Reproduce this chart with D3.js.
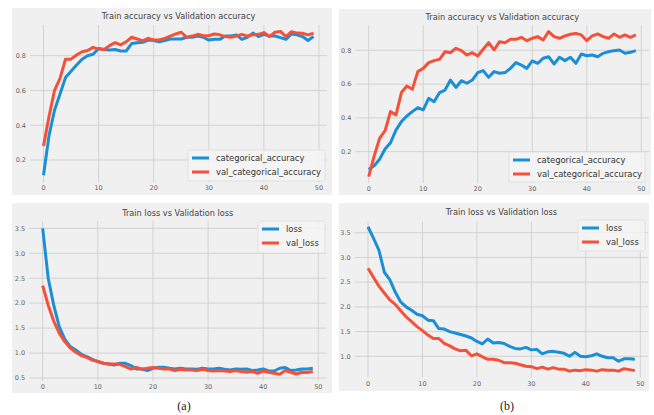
<!DOCTYPE html>
<html>
<head>
<meta charset="utf-8">
<style>
  body { margin: 0; background: #fff; }
  svg { display: block; font-family: "DejaVu Sans", sans-serif; }
</style>
</head>
<body>
<svg width="654" height="415"></svg>

<script src="https://d3js.org/d3.v7.min.js"></script>

<script>
    // ---- values (epochs 0..49) ----
    var accA = [0.112, 0.34, 0.486, 0.58, 0.675, 0.71, 0.746, 0.78, 0.80, 0.808,
        0.842, 0.836, 0.833, 0.836, 0.827, 0.827, 0.87, 0.875, 0.877, 0.89,
        0.887, 0.88, 0.887, 0.896, 0.896, 0.896, 0.906, 0.906, 0.913, 0.906,
        0.89, 0.894, 0.894, 0.913, 0.913, 0.92, 0.894, 0.906, 0.93, 0.91,
        0.923, 0.913, 0.913, 0.904, 0.894, 0.925, 0.92, 0.91, 0.887, 0.91];
    var valAccA = [0.28, 0.45, 0.6, 0.67, 0.78, 0.78, 0.804, 0.823, 0.83, 0.848,
        0.838, 0.836, 0.858, 0.875, 0.862, 0.88, 0.906, 0.896, 0.885, 0.9,
        0.89, 0.89, 0.9, 0.913, 0.925, 0.935, 0.906, 0.913, 0.923, 0.915,
        0.915, 0.925, 0.92, 0.91, 0.906, 0.913, 0.923, 0.913, 0.92, 0.923,
        0.933, 0.91, 0.935, 0.94, 0.91, 0.938, 0.93, 0.929, 0.92, 0.929];
    var lossA = [3.5, 2.5, 1.96, 1.53, 1.28, 1.13, 1.06, 0.975, 0.93, 0.875,
        0.83, 0.795, 0.78, 0.76, 0.795, 0.795, 0.75, 0.68, 0.68, 0.65,
        0.695, 0.715, 0.715, 0.695, 0.68, 0.695, 0.68, 0.68, 0.675, 0.695,
        0.68, 0.68, 0.695, 0.675, 0.66, 0.68, 0.675, 0.68, 0.65, 0.66,
        0.68, 0.64, 0.64, 0.695, 0.71, 0.65, 0.66, 0.68, 0.68, 0.695];
    var valLossA = [2.35, 1.96, 1.64, 1.4, 1.23, 1.1, 1.015, 0.95, 0.915, 0.86,
        0.83, 0.795, 0.78, 0.78, 0.775, 0.73, 0.68, 0.71, 0.675, 0.695,
        0.71, 0.695, 0.68, 0.68, 0.65, 0.675, 0.66, 0.66, 0.65, 0.675,
        0.65, 0.64, 0.65, 0.64, 0.63, 0.65, 0.63, 0.615, 0.63, 0.595,
        0.64, 0.615, 0.595, 0.575, 0.65, 0.615, 0.58, 0.615, 0.61, 0.63];

    var accB = [0.095, 0.117, 0.155, 0.216, 0.253, 0.328, 0.378, 0.411, 0.437, 0.46,
        0.447, 0.516, 0.496, 0.55, 0.565, 0.624, 0.58, 0.62, 0.605, 0.624,
        0.668, 0.68, 0.64, 0.674, 0.664, 0.668, 0.693, 0.727, 0.713, 0.693,
        0.737, 0.723, 0.753, 0.762, 0.719, 0.759, 0.739, 0.759, 0.723, 0.778,
        0.768, 0.772, 0.762, 0.782, 0.792, 0.798, 0.802, 0.782, 0.788, 0.798];
    var valAccB = [0.052, 0.174, 0.279, 0.324, 0.437, 0.417, 0.55, 0.589, 0.569, 0.674,
        0.693, 0.727, 0.739, 0.747, 0.792, 0.786, 0.812, 0.798, 0.772, 0.786,
        0.766, 0.806, 0.845, 0.802, 0.851, 0.845, 0.865, 0.865, 0.877, 0.857,
        0.871, 0.881, 0.861, 0.911, 0.881, 0.871, 0.885, 0.895, 0.9, 0.891,
        0.857, 0.885, 0.897, 0.881, 0.871, 0.897, 0.877, 0.891, 0.877, 0.891];
    var lossB = [3.62, 3.39, 3.15, 2.7, 2.55, 2.3, 2.1, 2.0, 1.93, 1.85,
        1.82, 1.73, 1.72, 1.56, 1.55, 1.5, 1.47, 1.44, 1.41, 1.37,
        1.3, 1.25, 1.35, 1.27, 1.28, 1.26, 1.2, 1.16, 1.15, 1.18,
        1.13, 1.14, 1.05, 1.09, 1.1, 1.08, 1.06, 1.0, 1.08, 1.0,
        0.99, 1.01, 1.05, 1.0, 0.97, 0.97, 0.9, 0.95, 0.95, 0.94];
    var valLossB = [2.78, 2.6, 2.42, 2.28, 2.14, 2.05, 1.92, 1.8, 1.7, 1.6,
        1.52, 1.43, 1.36, 1.36, 1.26, 1.21, 1.15, 1.11, 1.12, 1.01,
        1.05, 0.99, 0.94, 0.94, 0.92, 0.87, 0.87, 0.86, 0.83, 0.8,
        0.79, 0.75, 0.78, 0.74, 0.77, 0.74, 0.74, 0.7, 0.72, 0.71,
        0.73, 0.72, 0.7, 0.73, 0.72, 0.72, 0.7, 0.75, 0.73, 0.71];

    var xTicks = [0, 10, 20, 30, 40, 50];
    var accTicks = [0.2, 0.4, 0.6, 0.8];
    var lossTicksA = [0.5, 1.0, 1.5, 2.0, 2.5, 3.0, 3.5];
    var lossTicksB = [1.0, 1.5, 2.0, 2.5, 3.0, 3.5];

    var accNames = ["categorical_accuracy", "val_categorical_accuracy"];
    var lossNames = ["loss", "val_loss"];
    var accTitle = "Train accuracy vs Validation accuracy";
    var lossTitle = "Train loss vs Validation loss";
    var subLabels = ["(a)", "(b)"];
</script>

<script>
    var colors = ["#1a8fd6", "#f5503a"];
    var svg = d3.select("svg");

    // layout of the four matplotlib figures (pixel calibration from the ticks)
    var panels = [
        {bg: [12, 8, 332, 195], xr: [43.5, 319], yd: [0.2, 0.8], yr: [160, 55.7], ylim: [0.071, 0.976],
         title: accTitle, ty: 16, series: [accA, valAccA], names: accNames, yTicks: accTicks,
         leg: {x: 188, y: 150, w: 137, h: 31}},
        {bg: [339, 9, 651, 195], xr: [368.7, 641.3], yd: [0.2, 0.8], yr: [151.7, 50.3], ylim: [0.015, 0.947],
         title: accTitle, ty: 17, series: [accB, valAccB], names: accNames, yTicks: accTicks,
         leg: {x: 509, y: 152, w: 136, h: 30}},
        {bg: [12, 203, 332, 393], xr: [42.7, 318.3], yd: [0.5, 3.5], yr: [378, 228.3], ylim: [0.44, 3.65],
         title: lossTitle, ty: 213, series: [lossA, valLossA], names: lossNames, yTicks: lossTicksA,
         leg: {x: 258, y: 221, w: 67, h: 32}},
        {bg: [339, 203, 649, 391], xr: [368, 640.3], yd: [1.0, 3.5], yr: [356.3, 232.7], ylim: [0.57, 3.72],
         title: lossTitle, ty: 212, series: [lossB, valLossB], names: lossNames, yTicks: lossTicksB,
         leg: {x: 578, y: 220, w: 67, h: 31}}
    ];

    panels.forEach(function(p) {
        var x = d3.scaleLinear().domain([0, 50]).range(p.xr);
        var y = d3.scaleLinear().domain(p.yd).range(p.yr);
        var x0 = x(-2.45), x1 = x(51.45);
        var y0 = y(p.ylim[0]), y1 = y(p.ylim[1]);

        var g = svg.append("g");

        g.append("rect")
            .attr("x", p.bg[0]).attr("y", p.bg[1])
            .attr("width", p.bg[2] - p.bg[0]).attr("height", p.bg[3] - p.bg[1])
            .attr("fill", "#f0f0f0");

        // grid
        g.selectAll(".vg").data(xTicks).enter().append("line")
            .attr("x1", d => x(d)).attr("x2", d => x(d))
            .attr("y1", y1).attr("y2", y0)
            .attr("stroke", "#d2d2d2").attr("stroke-width", 1);
        g.selectAll(".hg").data(p.yTicks).enter().append("line")
            .attr("x1", x0).attr("x2", x1)
            .attr("y1", d => y(d)).attr("y2", d => y(d))
            .attr("stroke", "#d2d2d2").attr("stroke-width", 1);

        // tick labels
        g.selectAll(".xt").data(xTicks).enter().append("text")
            .attr("x", d => x(d)).attr("y", y0 + 8)
            .attr("text-anchor", "middle")
            .attr("font-size", 6.5).attr("fill", "#666")
            .text(d => d);
        g.selectAll(".yt").data(p.yTicks).enter().append("text")
            .attr("x", x0 - 4).attr("y", d => y(d) + 2.3)
            .attr("text-anchor", "end")
            .attr("font-size", 6.5).attr("fill", "#666")
            .text(d => d3.format(".1f")(d));

        // title
        g.append("text")
            .attr("x", (x0 + x1) / 2).attr("y", p.ty + 3)
            .attr("text-anchor", "middle")
            .attr("font-size", 8.2).attr("fill", "#444")
            .text(p.title);

        // lines
        var line = d3.line()
            .x(function(d, i) { return x(i); })
            .y(function(d) { return y(d); });

        p.series.forEach(function(s, k) {
            g.append("path")
                .attr("d", line(s))
                .attr("fill", "none")
                .attr("stroke", colors[k])
                .attr("stroke-width", 3)
                .attr("stroke-linejoin", "round");
        });

        // legend
        var L = p.leg;
        var lg = g.append("g");
        lg.append("rect")
            .attr("x", L.x).attr("y", L.y).attr("width", L.w).attr("height", L.h)
            .attr("rx", 2)
            .attr("fill", "#f5f5f5").attr("fill-opacity", 0.85)
            .attr("stroke", "#dcdcdc").attr("stroke-width", 0.8);
        p.names.forEach(function(n, k) {
            var ry = L.y + 8 + k * 14;
            lg.append("line")
                .attr("x1", L.x + 4).attr("x2", L.x + 21)
                .attr("y1", ry).attr("y2", ry)
                .attr("stroke", colors[k]).attr("stroke-width", 3);
            lg.append("text")
                .attr("x", L.x + 28).attr("y", ry + 3)
                .attr("font-size", 8.4).attr("fill", "#333")
                .text(n);
        });
    });

    // (a) / (b)
    svg.selectAll(".sub").data(subLabels).enter().append("text")
        .attr("x", (d, i) => i === 0 ? 184 : 507)
        .attr("y", 410)
        .attr("text-anchor", "middle")
        .attr("font-family", "Liberation Serif, serif")
        .attr("font-size", 12).attr("fill", "#222")
        .text(d => d);
</script>
</body>
</html>
